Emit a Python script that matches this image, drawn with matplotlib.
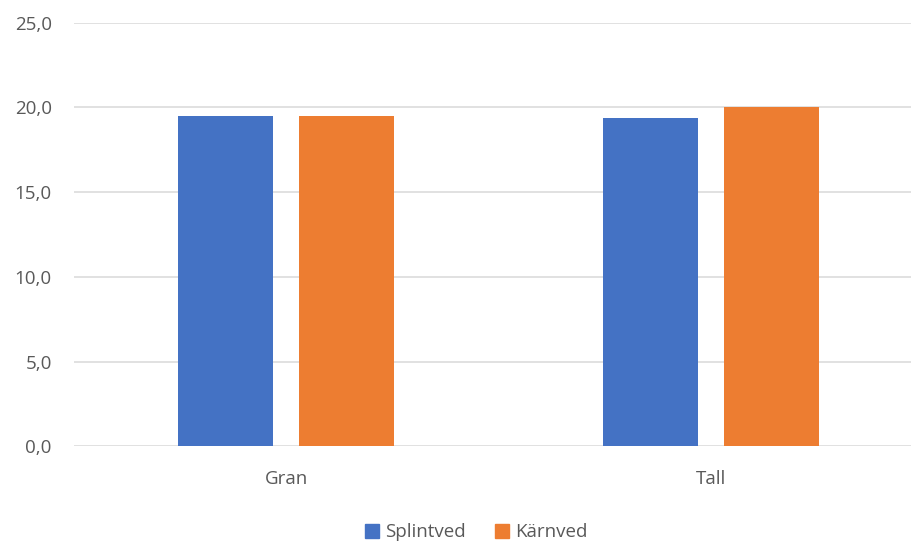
import numpy as np
import matplotlib.pyplot as plt
from matplotlib.patches import Patch

# data
categories = ['Gran', 'Tall']
splintved = [19.5, 19.4]
karnved = [19.5, 20.0]
y_ticks = [0, 5, 10, 15, 20, 25]

blue = '#4472C4'
orange = '#ED7D31'
text_col = '#595959'

plt.rcParams['font.family'] = ['Open Sans', 'DejaVu Sans']

fig = plt.figure(figsize=(9.12, 5.42), dpi=100)
# plot area in pixels: x 74..912, y 22.7..446.3
ax = fig.add_axes([74 / 912, (542 - 446.3) / 542, (912 - 74) / 912, (446.3 - 22.7) / 542])

x = np.arange(len(categories))
w = 0.2235
off = 0.1424
ax.bar(x - off, splintved, w, color=blue, zorder=3)
ax.bar(x + off, karnved, w, color=orange, zorder=3)

ax.set_ylim(0, 25)
ax.set_xlim(-0.5, 1.5 - 11.5 / 425)
ax.set_yticks(y_ticks)
ax.set_yticklabels([f'{v:.1f}'.replace('.', ',') for v in y_ticks])
ax.set_xticks(x)
ax.set_xticklabels(categories)
ax.yaxis.grid(True, color='#D9D9D9', linewidth=1.1, zorder=0)
ax.set_axisbelow(True)
for s in ax.spines.values():
    s.set_visible(False)
ax.tick_params(axis='y', length=0, pad=16, labelsize=13.5, labelcolor=text_col)
ax.tick_params(axis='x', length=0, pad=17, labelsize=13.5, labelcolor=text_col)

handles = [Patch(color=blue, label='Splintved'), Patch(color=orange, label='Kärnved')]
fig.legend(handles=handles, loc='lower center', bbox_to_anchor=(0.522, -0.03), ncol=2,
           frameon=False, fontsize=13.5, labelcolor=text_col, handlelength=0.75,
           handleheight=0.75, handletextpad=0.3, columnspacing=1.6)

fig.savefig('out.png', dpi=100)
